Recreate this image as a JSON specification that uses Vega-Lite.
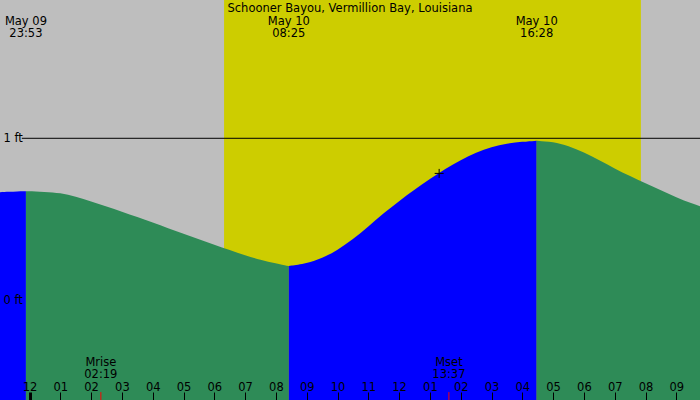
{
  "$schema": "https://vega.github.io/schema/vega-lite/v6.json",
  "width": 700,
  "height": 400,
  "autosize": {"type": "none"},
  "padding": 0,
  "background": "#bebebe",
  "title": {
    "text": "Schooner Bayou, Vermillion Bay, Louisiana",
    "anchor": "middle",
    "offset": -11,
    "dy": 12,
    "baseline": "alphabetic",
    "fontSize": 11.5,
    "fontWeight": "normal",
    "color": "black"
  },
  "config": {
    "font": "DejaVu Sans",
    "view": {"stroke": null},
    "axis": {"labelColor": "black", "labelFontSize": 11.5, "grid": false, "domain": false}
  },
  "datasets": {
    "tide": [
      {"time": "2024-05-09T22:50:00Z", "level": 0.664, "seg": 1, "phase": "rising"},
      {"time": "2024-05-09T23:20:00Z", "level": 0.669, "seg": 1, "phase": "rising"},
      {"time": "2024-05-09T23:53:00Z", "level": 0.673, "seg": 1, "phase": "rising"},
      {"time": "2024-05-09T23:53:00Z", "level": 0.673, "seg": 2, "phase": "falling"},
      {"time": "2024-05-10T00:30:00Z", "level": 0.669, "seg": 2, "phase": "falling"},
      {"time": "2024-05-10T01:00:00Z", "level": 0.662, "seg": 2, "phase": "falling"},
      {"time": "2024-05-10T01:30:00Z", "level": 0.640, "seg": 2, "phase": "falling"},
      {"time": "2024-05-10T02:00:00Z", "level": 0.610, "seg": 2, "phase": "falling"},
      {"time": "2024-05-10T02:30:00Z", "level": 0.578, "seg": 2, "phase": "falling"},
      {"time": "2024-05-10T03:00:00Z", "level": 0.547, "seg": 2, "phase": "falling"},
      {"time": "2024-05-10T03:30:00Z", "level": 0.513, "seg": 2, "phase": "falling"},
      {"time": "2024-05-10T04:00:00Z", "level": 0.480, "seg": 2, "phase": "falling"},
      {"time": "2024-05-10T04:30:00Z", "level": 0.444, "seg": 2, "phase": "falling"},
      {"time": "2024-05-10T05:00:00Z", "level": 0.409, "seg": 2, "phase": "falling"},
      {"time": "2024-05-10T05:30:00Z", "level": 0.375, "seg": 2, "phase": "falling"},
      {"time": "2024-05-10T06:00:00Z", "level": 0.342, "seg": 2, "phase": "falling"},
      {"time": "2024-05-10T06:30:00Z", "level": 0.309, "seg": 2, "phase": "falling"},
      {"time": "2024-05-10T07:00:00Z", "level": 0.276, "seg": 2, "phase": "falling"},
      {"time": "2024-05-10T07:30:00Z", "level": 0.248, "seg": 2, "phase": "falling"},
      {"time": "2024-05-10T08:00:00Z", "level": 0.226, "seg": 2, "phase": "falling"},
      {"time": "2024-05-10T08:25:00Z", "level": 0.210, "seg": 2, "phase": "falling"},
      {"time": "2024-05-10T08:25:00Z", "level": 0.210, "seg": 3, "phase": "rising"},
      {"time": "2024-05-10T09:00:00Z", "level": 0.227, "seg": 3, "phase": "rising"},
      {"time": "2024-05-10T09:30:00Z", "level": 0.259, "seg": 3, "phase": "rising"},
      {"time": "2024-05-10T10:00:00Z", "level": 0.309, "seg": 3, "phase": "rising"},
      {"time": "2024-05-10T10:30:00Z", "level": 0.375, "seg": 3, "phase": "rising"},
      {"time": "2024-05-10T11:00:00Z", "level": 0.455, "seg": 3, "phase": "rising"},
      {"time": "2024-05-10T11:30:00Z", "level": 0.537, "seg": 3, "phase": "rising"},
      {"time": "2024-05-10T12:00:00Z", "level": 0.612, "seg": 3, "phase": "rising"},
      {"time": "2024-05-10T12:30:00Z", "level": 0.683, "seg": 3, "phase": "rising"},
      {"time": "2024-05-10T13:00:00Z", "level": 0.748, "seg": 3, "phase": "rising"},
      {"time": "2024-05-10T13:30:00Z", "level": 0.812, "seg": 3, "phase": "rising"},
      {"time": "2024-05-10T14:00:00Z", "level": 0.866, "seg": 3, "phase": "rising"},
      {"time": "2024-05-10T14:30:00Z", "level": 0.912, "seg": 3, "phase": "rising"},
      {"time": "2024-05-10T15:00:00Z", "level": 0.946, "seg": 3, "phase": "rising"},
      {"time": "2024-05-10T15:30:00Z", "level": 0.968, "seg": 3, "phase": "rising"},
      {"time": "2024-05-10T16:00:00Z", "level": 0.979, "seg": 3, "phase": "rising"},
      {"time": "2024-05-10T16:28:00Z", "level": 0.985, "seg": 3, "phase": "rising"},
      {"time": "2024-05-10T16:28:00Z", "level": 0.985, "seg": 4, "phase": "falling"},
      {"time": "2024-05-10T17:00:00Z", "level": 0.979, "seg": 4, "phase": "falling"},
      {"time": "2024-05-10T17:30:00Z", "level": 0.954, "seg": 4, "phase": "falling"},
      {"time": "2024-05-10T18:00:00Z", "level": 0.913, "seg": 4, "phase": "falling"},
      {"time": "2024-05-10T18:30:00Z", "level": 0.865, "seg": 4, "phase": "falling"},
      {"time": "2024-05-10T19:00:00Z", "level": 0.813, "seg": 4, "phase": "falling"},
      {"time": "2024-05-10T19:30:00Z", "level": 0.766, "seg": 4, "phase": "falling"},
      {"time": "2024-05-10T20:00:00Z", "level": 0.722, "seg": 4, "phase": "falling"},
      {"time": "2024-05-10T20:30:00Z", "level": 0.679, "seg": 4, "phase": "falling"},
      {"time": "2024-05-10T21:00:00Z", "level": 0.635, "seg": 4, "phase": "falling"},
      {"time": "2024-05-10T21:30:00Z", "level": 0.598, "seg": 4, "phase": "falling"},
      {"time": "2024-05-10T22:00:00Z", "level": 0.565, "seg": 4, "phase": "falling"}
    ],
    "gridline": [
      {"level": 1, "start": "2024-05-09T23:45:00Z", "end": "2024-05-10T22:00:00Z"}
    ],
    "extremes": [
      {"time": "2024-05-09T23:53:00Z", "label": "May 09\n23:53"},
      {"time": "2024-05-10T08:25:00Z", "label": "May 10\n08:25"},
      {"time": "2024-05-10T16:28:00Z", "label": "May 10\n16:28"}
    ],
    "moon": [
      {"time": "2024-05-10T02:19:00Z", "label": "Mrise\n02:19"},
      {"time": "2024-05-10T13:37:00Z", "label": "Mset\n13:37"}
    ],
    "sun": [
      {"sunrise": "2024-05-10T06:19:00Z", "sunset": "2024-05-10T19:51:00Z"}
    ],
    "now": [
      {"time": "2024-05-10T13:18:00Z", "level": 0.783}
    ]
  },
  "layer": [
    {
      "data": {"name": "sun"},
      "mark": {"type": "rect", "color": "#cdcd00"},
      "encoding": {
        "x": {
          "field": "sunrise",
          "type": "temporal",
          "title": null,
          "scale": {"type": "utc", "domain": [1715295750000, 1715377570000], "nice": false},
          "axis": {
            "zindex": 1,
            "format": "%I",
            "tickCount": 24,
            "ticks": true,
            "tickSize": 8,
            "tickColor": "black",
            "tickWidth": {"condition": {"test": "utchours(datum.value) === 0", "value": 3}, "value": 1},
            "offset": -8,
            "labelPadding": -10,
            "labelBaseline": "alphabetic",
            "labelFlush": false,
            "labelOverlap": false
          }
        },
        "x2": {"field": "sunset"}
      }
    },
    {
      "data": {"name": "gridline"},
      "mark": {"type": "rule", "color": "black", "strokeWidth": 1, "clip": true},
      "encoding": {
        "x": {"field": "start", "type": "temporal", "title": null},
        "x2": {"field": "end"},
        "y": {"field": "level", "type": "quantitative", "title": null}
      }
    },
    {
      "data": {"name": "tide"},
      "mark": {"type": "area", "interpolate": "basis", "clip": true},
      "encoding": {
        "x": {"field": "time", "type": "temporal", "title": null},
        "y": {
          "field": "level",
          "type": "quantitative",
          "title": null,
          "scale": {"domain": [-0.618, 1.855], "nice": false, "zero": false},
          "axis": {
            "zindex": 1,
            "values": [0, 1],
            "labelExpr": "datum.value + ' ft'",
            "ticks": false,
            "tickSize": 0,
            "labelAlign": "left",
            "labelBaseline": "middle",
            "labelPadding": -3
          }
        },
        "y2": {"datum": -0.618},
        "color": {
          "field": "phase",
          "type": "nominal",
          "scale": {"domain": ["rising", "falling"], "range": ["#0000ff", "#2e8b57"]},
          "legend": null
        },
        "detail": {"field": "seg", "type": "nominal"}
      }
    },
    {
      "data": {"name": "now"},
      "mark": {"type": "point", "shape": "M-1,0H1M0,-1V1", "size": 81, "filled": false, "stroke": "black", "strokeWidth": 1, "opacity": 1},
      "encoding": {
        "x": {"field": "time", "type": "temporal", "title": null},
        "y": {"field": "level", "type": "quantitative", "title": null}
      }
    },
    {
      "data": {"name": "extremes"},
      "mark": {"type": "text", "lineBreak": "\n", "lineHeight": 12, "align": "center", "baseline": "alphabetic", "fontSize": 11.5, "color": "black"},
      "encoding": {
        "x": {"field": "time", "type": "temporal", "title": null},
        "y": {"datum": 1.703, "type": "quantitative", "title": null},
        "text": {"field": "label"}
      }
    },
    {
      "data": {"name": "moon"},
      "mark": {"type": "text", "lineBreak": "\n", "lineHeight": 12.5, "align": "center", "baseline": "alphabetic", "fontSize": 11.5, "color": "black"},
      "encoding": {
        "x": {"field": "time", "type": "temporal", "title": null},
        "y": {"datum": -0.405, "type": "quantitative", "title": null},
        "text": {"field": "label"}
      }
    },
    {
      "data": {"name": "moon"},
      "mark": {"type": "rule", "color": "#ff0000", "strokeWidth": 1},
      "encoding": {
        "x": {"field": "time", "type": "temporal", "title": null},
        "y": {"datum": -0.569, "type": "quantitative", "title": null},
        "y2": {"datum": -0.618}
      }
    }
  ]
}
